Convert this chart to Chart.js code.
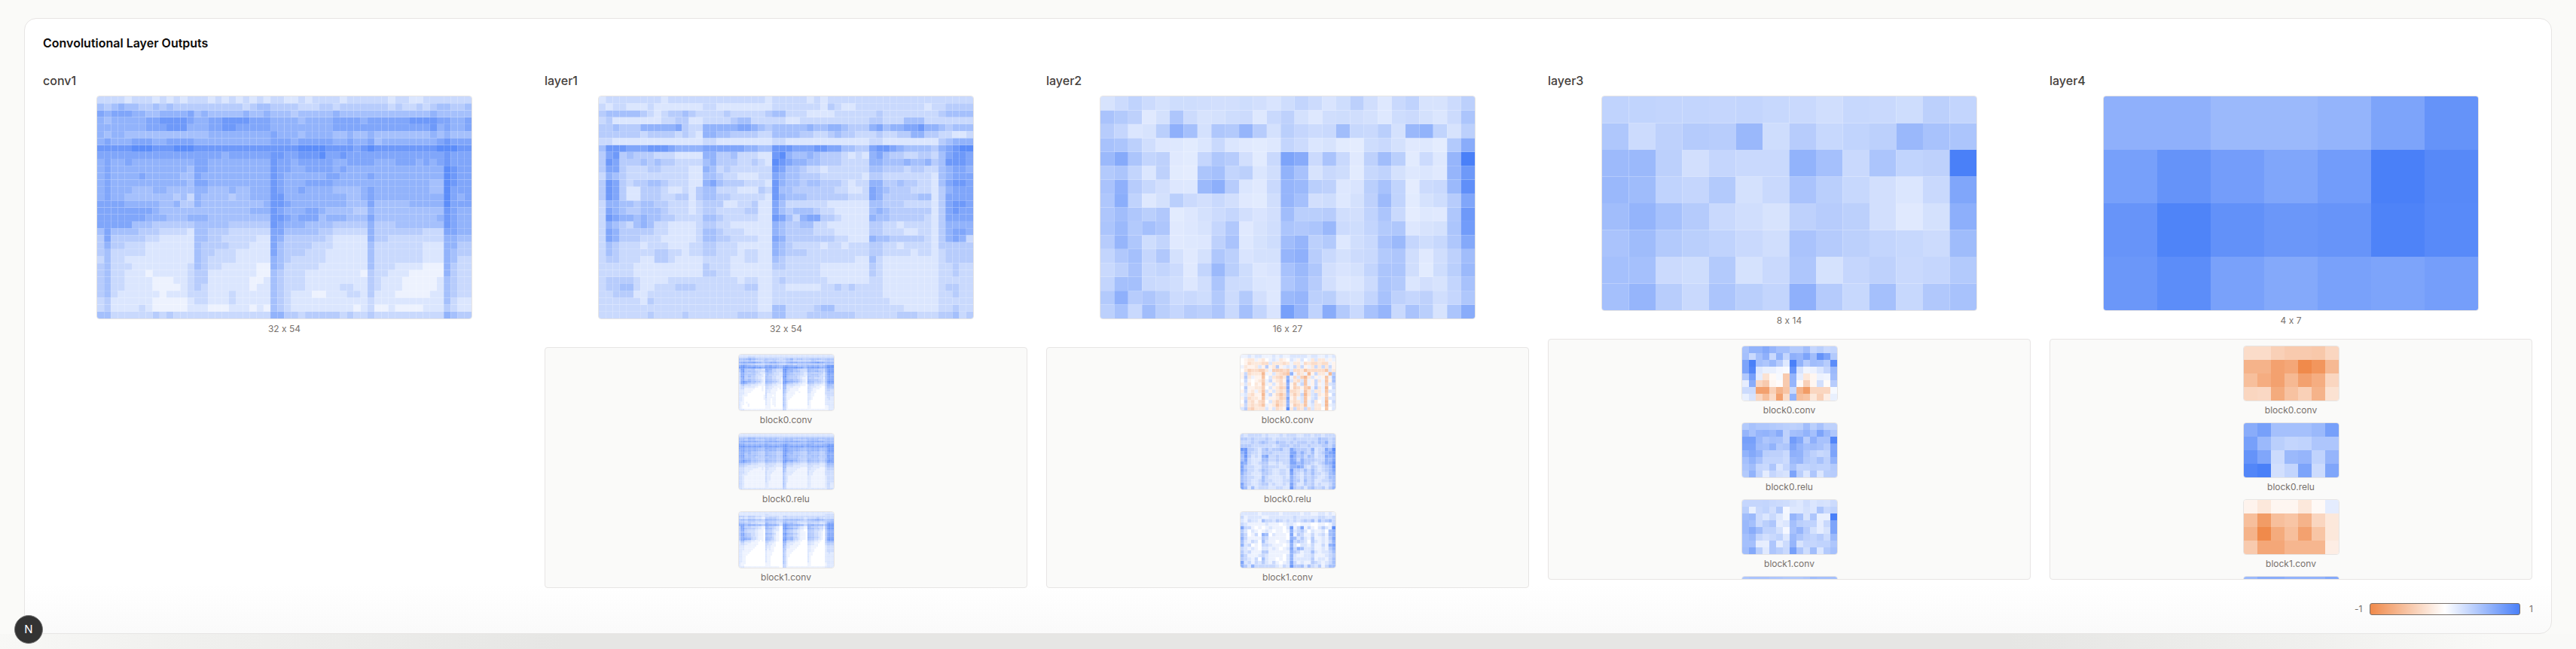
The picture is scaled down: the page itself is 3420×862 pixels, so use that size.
<!DOCTYPE html>
<html>
<head>
<meta charset="utf-8">
<title>Convolutional Layer Outputs</title>
<script src="https://cdn.jsdelivr.net/npm/chart.js@4/dist/chart.umd.min.js"></script>
<style>
  html, body { margin: 0; padding: 0; width: 3420px; height: 862px; overflow: hidden; background: #fafaf8; font-family: Inter, "Noto Sans", sans-serif; font-feature-settings: "calt" 0; color: #44403c; }
  .strip { position: absolute; left: 0; top: 842px; width: 3420px; height: 20px; background: linear-gradient(to right, #f8f8f6 0%, #f1f1ef 6%, #e6e6e4 22%, #e6e6e4 78%, #f0f0ee 90%, #f9f9f7 97%); }
  .card { position: absolute; left: 32px; top: 24px; width: 3356px; height: 818px; box-sizing: border-box; background: linear-gradient(to bottom, #fff 0%, #fff 92%, #fafafa 100%); border: 1px solid #e7e5e4; border-radius: 16px; }
  .title { position: absolute; left: 57px; top: 45px; font-size: 16px; line-height: 24px; font-weight: 600; color: #0c0a09; }
  .col { position: absolute; top: 95px; width: 641px; display: flex; flex-direction: column; }
  .name { font-size: 16px; line-height: 24px; font-weight: 500; color: #44403c; margin-bottom: 8px; }
  .heat { align-self: center; flex: none; box-sizing: border-box; border: 1px solid #e7e5e4; border-radius: 4px; overflow: hidden; background: #fff; }
  .heat canvas { display: block; }
  .cap { align-self: center; flex: none; font-size: 12px; line-height: 16px; color: #78716c; margin-top: 5px; }
  .panel { margin-top: 16px; height: 320px; box-sizing: border-box; background: #fafaf9; border: 1px solid #e7e5e4; border-radius: 4px; padding-top: 8px; overflow: hidden; display: flex; flex-direction: column; align-items: center; flex: none; }
  .panel .cap { margin-top: 4px; margin-bottom: 8.6px; }
  .panel.short .cap { margin-bottom: 8px; }
  .legend { position: absolute; top: 801px; left: 3122px; height: 16px; }
  .legend span { position: absolute; top: 0; font-size: 12px; line-height: 16px; color: #78716c; }
  .legend i { position: absolute; left: 24px; top: 0; width: 200px; height: 16px; box-sizing: border-box; border: 1px solid #78716c; border-radius: 3px; background: linear-gradient(to right, #f08a4b, #fff 50%, #4a80f8); }
  .badge { position: absolute; left: 19px; top: 817px; width: 38px; height: 38px; box-sizing: border-box; border-radius: 50%; background: #333; border: 1px solid #777; color: #fff; font-size: 15px; line-height: 36px; text-align: center; }
</style>
</head>
<body>
<div class="strip"></div>
<div class="card"></div>
<div class="title">Convolutional Layer Outputs</div>

<div class="col" style="left:57px">
  <div class="name">conv1</div>
  <div class="heat"><canvas id="conv1" width="497" height="295"></canvas></div>
  <div class="cap">32 x 54</div>
</div>

<div class="col" style="left:723px">
  <div class="name">layer1</div>
  <div class="heat"><canvas id="layer1" width="497" height="295"></canvas></div>
  <div class="cap">32 x 54</div>
  <div class="panel">
    <div class="heat"><canvas id="l1a" width="126" height="74"></canvas></div><div class="cap">block0.conv</div>
    <div class="heat"><canvas id="l1b" width="126" height="74"></canvas></div><div class="cap">block0.relu</div>
    <div class="heat"><canvas id="l1c" width="126" height="74"></canvas></div><div class="cap">block1.conv</div>
  </div>
</div>

<div class="col" style="left:1389px">
  <div class="name">layer2</div>
  <div class="heat"><canvas id="layer2" width="497" height="295"></canvas></div>
  <div class="cap">16 x 27</div>
  <div class="panel">
    <div class="heat"><canvas id="l2a" width="126" height="74"></canvas></div><div class="cap">block0.conv</div>
    <div class="heat"><canvas id="l2b" width="126" height="74"></canvas></div><div class="cap">block0.relu</div>
    <div class="heat"><canvas id="l2c" width="126" height="74"></canvas></div><div class="cap">block1.conv</div>
  </div>
</div>

<div class="col" style="left:2055px">
  <div class="name">layer3</div>
  <div class="heat"><canvas id="layer3" width="497" height="284"></canvas></div>
  <div class="cap">8 x 14</div>
  <div class="panel short">
    <div class="heat"><canvas id="l3a" width="126" height="72"></canvas></div><div class="cap">block0.conv</div>
    <div class="heat"><canvas id="l3b" width="126" height="72"></canvas></div><div class="cap">block0.relu</div>
    <div class="heat"><canvas id="l3c" width="126" height="72"></canvas></div><div class="cap">block1.conv</div>
    <div class="heat"><canvas id="l3d" width="126" height="72"></canvas></div>
  </div>
</div>

<div class="col" style="left:2721px">
  <div class="name">layer4</div>
  <div class="heat"><canvas id="layer4" width="497" height="284"></canvas></div>
  <div class="cap">4 x 7</div>
  <div class="panel short">
    <div class="heat"><canvas id="l4a" width="126" height="72"></canvas></div><div class="cap">block0.conv</div>
    <div class="heat"><canvas id="l4b" width="126" height="72"></canvas></div><div class="cap">block0.relu</div>
    <div class="heat"><canvas id="l4c" width="126" height="72"></canvas></div><div class="cap">block1.conv</div>
    <div class="heat"><canvas id="l4d" width="126" height="72"></canvas></div>
  </div>
</div>

<div class="legend"><span style="left:4px">-1</span><i></i><span style="left:236px">1</span></div>
<div class="badge">N</div>

<script>
// big grids are rows of characters: digit = +tenths, letter a..j = -0.1..-1.0 (spaces are only for counting)
const conv1Rows = [
"33 332333232323 33 232323232 33 223233332333 3 3323322333 33 33",
"54 565544545444 44 444443455 44 443334434444 4 4434334345 54 45",
"76 777665566667 56 555556556 55 545555565555 5 5555555565 55 55",
"65 666667788887 66 778888777 66 665666677776 7 7777788887 76 67",
"66 666667778886 66 778877777 66 666666677777 7 7777777786 76 67",
"65 665555555555 55 666666666 76 665666655655 6 5555555565 65 55",
"67 666777667777 66 666666666 77 767777766766 7 5666666667 87 77",
"88 888999888999 88 888888888 88 889999888878 9 8888888889 99 88",
"77 777777777777 77 776777777 88 778889778777 7 7777777777 87 77",
"67 667666666666 77 666666666 87 767777766777 7 6667776767 87 77",
"67 666666666665 77 666666666 87 766777767666 6 6666666666 98 77",
"67 666676666655 76 666666666 87 666666776666 7 6666666666 98 77",
"67 666666666665 77 666666666 87 666777766666 6 6666666655 98 77",
"67 666555665555 66 555655666 87 667666655556 7 6666666655 97 77",
"67 665555555453 65 555455666 88 666666666556 7 6666666666 97 67",
"77 776666655644 65 555555556 88 766666666555 7 5555566666 97 77",
"77 777777655555 55 555555666 87 666776555544 6 5555555555 87 66",
"77 777776665556 66 555555555 88 767775666555 7 5555555556 87 66",
"77 777555444444 55 555444444 87 666555544444 6 4445555555 87 66",
"57 555544433332 55 444333333 77 555554433333 6 4444444333 77 66",
"47 444443322222 55 443333322 76 444444322222 6 4433333333 66 55",
"46 443332222222 54 444333222 75 444433322222 5 3333333222 66 44",
"45 333332222222 54 433322222 75 444333222222 5 3333333222 65 44",
"35 332222222222 54 333322222 65 433333222222 5 3333333222 65 33",
"45 333222222223 54 332222211 65 333332222222 5 3332222111 64 33",
"45 332221222223 44 222222211 54 333222222221 4 3322211111 64 33",
"45 332222111223 44 222222112 54 333222222222 4 3222111112 54 33",
"45 332222111123 43 222222122 54 333222223322 4 3222111112 54 33",
"45 322222212223 33 222322222 54 322211222332 4 2221111122 54 33",
"34 222222111112 33 222322222 54 322222222222 3 2222222222 53 22",
"34 222232111112 22 111222121 54 322222222212 3 1121111222 43 22",
"55 333333434333 33 333333333 66 443444443433 4 3333333333 65 44"
];

const layer1Rows = [
"2 33 3333332333 33 33 333333 32 33 3332323333 33 33 3333333 3 33333",
"3 23 3222322222 22 33 222222 22 33 3333324322 33 33 3333332 3 34444",
"4 55 5554323445 43 33 343333 34 55 3332222333 33 34 3333333 3 45555",
"3 42 2222223344 22 33 334553 33 33 2233333333 33 44 3335553 3 33333",
"4 45 4446666674 33 66 666776 54 55 5556556654 44 67 5667786 6 54555",
"4 44 4443444434 32 66 554444 33 55 5544334544 33 34 3344664 4 33223",
"3 32 2222222222 22 33 222222 22 33 2222222222 22 33 2222222 2 45666",
"5 88 8777888766 66 77 777766 55 88 8777887755 44 78 8765555 4 67899",
"4 78 4544433322 22 66 445333 22 89 6556544432 32 67 5443344 3 57887",
"4 87 4445454433 33 56 444334 32 98 7665544433 33 66 5556556 4 58887",
"4 77 4333443333 22 65 343333 33 87 5543323333 33 55 4443443 3 56776",
"3 65 4333333333 22 55 433222 33 76 5544433333 32 44 3333333 2 56777",
"4 87 4344554333 22 67 544433 32 86 5545544432 33 66 4454433 2 57887",
"4 87 4224443223 24 55 333222 43 85 5444444332 23 76 5444333 2 46777",
"4 87 4224443344 24 55 443333 32 86 5554444443 33 76 4444455 2 47777",
"3 66 5545544333 23 44 422334 22 75 3333332222 22 55 4443333 2 47887",
"3 76 5445554333 23 44 333344 22 75 4555433222 22 56 5444444 2 47877",
"3 87 6656554433 33 55 433333 22 87 5367744322 22 65 5444443 2 47777",
"3 65 4356533222 23 44 332222 22 65 4455332222 22 44 3323333 2 46666",
"3 76 4444433222 23 55 433322 22 65 4444333222 22 44 3332233 2 46776",
"3 76 4443332222 23 55 443333 22 76 4444444332 22 65 5444443 2 46763",
"3 54 3332333222 33 44 333222 22 65 4333323323 33 44 3323333 2 44444",
"3 54 3333344332 33 44 333233 22 65 4443333333 33 44 3333233 2 34444",
"3 44 3332244322 22 33 332233 22 54 3333333333 22 53 2222222 2 34444",
"3 33 3322222222 22 43 332222 22 44 3333322222 22 43 2222222 2 33433",
"3 33 3322222222 22 44 332222 22 33 3333322222 22 43 2222222 2 33433",
"3 44 4432222333 33 33 333233 22 34 3333332222 22 33 2222222 2 33333",
"3 44 5532233344 43 33 333344 22 33 2222233434 33 33 2222222 2 34433",
"3 34 4422333333 33 33 333333 22 33 3333333333 33 33 2222222 2 33433",
"3 33 3332433333 33 33 333333 22 33 3333333333 33 33 3222222 2 33333",
"3 33 3333333333 33 33 333333 22 55 3333455333 33 33 3332222 2 33433",
"3 33 3333433334 33 33 333444 33 55 3334444444 33 33 3344433 3 44534"
];

const layer1Block0Conv = [
"2 22 2222222222 22 22 222222 22 22 2222222222 22 22 2222222 2 22222",
"3 33 3344443333 33 33 333333 33 33 3333333333 33 33 3333333 3 33333",
"5 55 5667665544 44 55 445444 33 44 5566445554 44 45 5555554 4 55555",
"4 44 4445443333 34 44 334433 33 33 4444333333 33 33 4443333 3 44444",
"6 77 7777887766 55 66 677766 55 55 6777776666 66 67 7788877 6 66666",
"4 55 5544443333 33 44 444444 33 33 4444334444 44 44 4444444 3 55555",
"6 88 7766666655 55 77 776666 55 77 7766665555 55 66 6666655 5 78899",
"8 99 8888998888 77 88 888877 66 99 9988998887 66 88 8888877 6 89999",
"4 88 5544553333 22 77 664433 33 99 7766554433 33 66 5555444 3 67888",
"4 78 5555554433 33 67 554433 33 88 6666555533 33 66 5566554 3 67888",
"3 77 5544554432 22 56 554333 22 88 6655444433 22 55 4444444 2 57888",
"3 77 5555554333 21 56 444333 22 88 6655544433 22 55 5555443 2 57877",
"3 77 4455443322 21 55 443322 22 88 5544443322 21 55 4444433 2 56777",
"3 67 4444443322 11 55 443322 21 87 5544443321 11 54 4433333 1 56777",
"3 77 5566554433 21 66 554433 21 88 6666555432 21 66 5555443 2 57888",
"3 78 7766555443 21 66 555443 21 88 7766655432 21 66 5544443 2 57888",
"3 77 6644443322 11 55 443322 21 87 5544333221 11 55 4433332 1 46777",
"2 45 3333222211 11 44 332221 10 76 3333322211 10 34 3322211 1 46665",
"2 33 2222221100 10 33 222111 10 65 2222111100 00 33 2221110 0 35555",
"2 33 1111110000 10 33 221110 10 65 2211111000 00 33 2111100 0 34444",
"2 22 1111100000 10 32 211110 00 64 2211111000 00 33 2110000 0 34433",
"2 22 1111000000 00 32 211100 00 64 2111100100 00 33 1110000 0 33333",
"2 22 1100000000 00 31 111100 00 53 1111100000 00 22 1100000 0 33333",
"2 21 1100000000 01 31 110100 00 53 1111000000 00 22 1100000 0 23333",
"2 21 0000000000 01 31 111100 00 53 1110000000 00 22 1000000 0 23322",
"2 21 0000000000 01 21 101100 00 53 1100000000 00 22 1000000 0 22322",
"2 21 0000000000 00 21 101100 00 53 1000000000 00 21 0000000 0 22222",
"2 11 0100000000 00 21 101100 00 53 1000000000 00 21 0000000 0 22222",
"2 11 0010000000 00 21 101100 00 53 1000000000 00 21 0000000 0 22222",
"2 10 0010000000 00 11 100100 00 53 1000000000 00 11 0000000 0 11222",
"2 10 0000000000 00 11 100000 00 43 1000000000 00 11 0000000 0 11222",
"2 22 1111111111 11 11 111111 11 43 1111111111 11 11 1111111 1 11222"
];

const layer1Block0Relu = [
"2 22 2222222222 22 22 222222 22 22 2222222222 22 22 2222222 2 22222",
"3 33 3333333333 33 33 333333 33 33 3333333333 33 33 3333333 3 33333",
"5 55 5566665555 55 55 555555 44 55 5555555555 55 55 5555555 5 55555",
"5 55 4455554444 44 55 555544 44 55 5555444444 44 55 5555444 4 55555",
"6 77 7777777766 66 77 777777 66 77 7777777766 66 77 7777777 6 66666",
"6 66 5555555555 55 66 555555 55 66 6655555555 55 66 6655555 5 66666",
"7 77 6666666666 66 77 666666 66 88 7766666666 66 77 6666666 6 77888",
"8 99 8888888888 77 88 888888 77 99 8888888888 77 88 8888888 7 89999",
"7 77 6666666655 55 77 666655 55 88 7766666655 55 66 6666655 5 67888",
"6 77 6666666655 55 66 666655 55 88 7766666655 55 66 6666655 5 67888",
"6 77 6666555544 44 66 555544 44 88 7766555544 44 66 5555544 4 67888",
"6 77 5566555544 44 66 555544 44 88 6666555544 44 66 5555544 4 67777",
"6 77 5555555544 44 66 555544 44 88 6655555544 44 55 5555544 4 57777",
"6 77 5555554444 44 55 555544 44 87 6655555444 44 55 5555444 4 57777",
"6 77 6666555544 44 66 555544 44 88 7766665544 44 66 5555544 4 67888",
"6 78 7766555544 44 66 555544 44 88 7777665544 44 66 5555544 4 67887",
"6 77 6655444433 33 55 444433 33 87 5555444433 33 55 4444433 3 57777",
"5 55 4444333322 22 44 333322 22 76 4444333322 22 44 3333322 2 46666",
"4 44 3322222222 22 33 333222 22 65 3333222222 22 33 3222222 2 45555",
"3 33 2222222211 21 33 222211 11 65 2222222211 11 33 2222211 1 34444",
"3 33 2222211111 21 33 222211 11 64 2222221111 11 33 2221111 1 34444",
"3 33 2221111111 11 32 222111 11 64 2222211111 11 32 2211111 1 33333",
"3 33 2211111111 11 32 221111 11 53 2222111111 11 32 2111111 1 33333",
"3 32 2211111111 11 32 211111 11 53 2221111111 11 32 2111111 1 33333",
"3 32 1111111111 11 32 211111 11 53 2111111111 11 22 1111111 1 23333",
"3 32 1111111111 11 32 211111 11 53 2111111111 11 22 1111111 1 23333",
"3 32 1111111111 11 32 211111 11 53 2111111111 11 22 1111111 1 23333",
"3 32 1111111111 11 32 111111 11 53 2111111111 11 22 1111111 1 23333",
"3 32 1111111111 11 22 111111 11 53 1111111111 11 22 1111111 1 23322",
"3 32 1111111111 11 22 111111 11 53 1111111111 11 22 1111111 1 23322",
"3 32 1111111111 11 22 111111 11 53 1111111111 11 22 1111111 1 23322",
"3 32 2222222222 22 22 222222 22 43 2222222222 22 22 2222222 2 23333"
];

const layer1Block1Conv = [
"2 22 2222222222 22 22 222222 22 22 2222222222 22 22 2222222 2 22222",
"2 22 2222222222 22 33 222222 22 22 2222222222 22 22 2222222 2 33333",
"4 44 3344443333 22 33 333333 22 44 3333333333 33 33 3333333 3 33333",
"3 23 2233332222 11 44 444433 22 33 3333333333 22 33 3334433 2 33333",
"5 66 5566665555 44 77 666655 44 66 6666666655 44 66 6677766 5 55566",
"4 44 3344443333 33 55 444433 33 55 4444443333 33 44 4444433 3 45566",
"5 55 4444333322 22 66 444433 22 66 5555443322 22 44 3333322 2 46777",
"7 88 6677776666 55 88 777766 33 99 8877777766 44 77 7766666 4 78999",
"4 87 4444333322 11 66 444322 00 88 6655444322 11 66 4444333 1 57888",
"4 77 5544443322 11 66 554322 00 88 7766554322 11 66 5544433 1 57888",
"4 77 4433332211 10 55 443222 00 77 5544332211 00 55 4433322 0 46777",
"4 66 4433332211 10 55 443211 00 77 5544332211 10 55 4433221 0 46777",
"4 77 5544332211 10 66 554311 00 88 6655443211 10 55 4433221 0 46777",
"4 77 5544332211 10 55 443211 00 77 5544332211 10 55 4433221 0 46777",
"4 77 6655433211 10 66 554211 00 88 6666443211 10 66 5544321 0 47888",
"4 77 7766433211 10 66 544211 00 88 6666433211 10 55 4433221 0 47888",
"3 66 4433221110 10 55 433211 00 87 4444322110 00 44 3322110 0 46777",
"2 44 2222111100 00 44 222100 00 76 3322211100 00 33 2211100 0 45555",
"2 33 2211111100 00 33 221100 00 65 2222111100 00 33 2211000 0 34444",
"2 22 1111111000 00 32 211100 00 64 2211111000 00 22 1111000 0 23333",
"2 22 1111110000 00 32 211000 00 64 2211110000 00 22 1110000 0 23333",
"2 22 1111100000 00 31 211000 00 54 1111100000 00 22 1100000 0 23333",
"2 21 1111000000 00 21 111000 00 53 1111000000 00 22 1100000 0 23333",
"2 21 1110000000 00 21 110000 00 53 1110000000 00 21 1000000 0 22322",
"2 21 1100000000 00 21 110000 00 53 1100000000 00 21 1000000 0 22222",
"2 21 1000000000 00 21 100000 00 53 1100000000 00 21 0000000 0 22222",
"2 21 1000000000 00 21 100000 00 53 1000000000 00 21 0000000 0 22222",
"2 21 1000000000 00 21 100000 00 53 1000000000 00 21 0000000 0 22222",
"2 21 1000000000 00 21 100000 00 53 1000000000 00 21 0000000 0 22222",
"2 11 1000000000 00 11 100000 00 53 1000000000 00 11 0000000 0 12222",
"2 11 0000000000 00 11 100000 00 43 1000000000 00 11 0000000 0 12222",
"2 22 1111111111 11 11 111111 00 43 1111111111 11 11 1111111 1 22222"
];

const layer2Block0Conv = [
"11212 21112 12112 22221 22112 12",
"0abb1 ab012 1ba02 1a201 b2bb1 a1",
"0acbb bcc2b bbcb1 bb1cb ccbcc 1a",
"1baab 2a4ab 4a121 3b3a1 b3b3b 3a",
"0bdcc ddb1d ddcd2 ccbec cccce 2b",
"a3cbb bf1a2 bcde6 1cb1f a3bb1 f4",
"a4b1a ae02b cdb61 c2dfb 2a1ae 15",
"03a0a bd13a bca72 bc2e1 a3b1e a5",
"a2b0b ae1a2 acb6a d13e1 a3a1d 23",
"04aab bd02a bdc7a dcade 14b1f 03",
"a3ab1 be2a2 bcb6c cb1eb 2bb1e 22",
"12bca af13a cec5b db3fb 23bad 03",
"a3cbb ae1aa bdc7a c12ea 23a1e 22",
"04bca cd02b dcb6b cb2e1 3b01f 03",
"a3bcb ce1ab ecb6a dcbe1 2bb1f 12",
"24cdb bb2a2 cba9b 3cb3c 2bb0e 02"
];

const layer2Block0Relu = [
"32333 32322 23233 32233 23323 33",
"44343 33432 33333 43333 33544 34",
"33343 45433 54434 34443 43546 34",
"44433 33332 34443 44334 33344 35",
"88443 24534 45337 54443 62337 59",
"68433 24443 33337 74643 52346 78",
"58423 26733 43338 64535 42337 67",
"57322 25533 43337 63644 43336 57",
"76322 34422 32337 75644 32346 68",
"74332 24433 32236 67632 43234 58",
"75332 35432 23328 44353 53234 57",
"64322 24432 23327 43243 53323 56",
"54332 25322 22326 43243 43223 55",
"54322 35332 22336 44253 42233 45",
"74322 34423 22327 42243 42322 35",
"75252 33322 33228 43424 53342 46"
];

const layer2Block1Conv = [
"22222 12222 21222 22122 11221 21",
"31222 21122 22222 32222 22332 23",
"21322 15332 43232 32343 52534 53",
"32111 11211 10122 10111 00110 13",
"73310 10121 11028 13713 10242 19",
"42021 01210 11016 23420 21120 56",
"53013 06502 11107 14311 31231 56",
"63111 14311 11106 52421 41121 47",
"52132 05211 01127 34320 42121 36",
"62301 03321 11016 20221 31131 67",
"32121 02212 10127 36522 31121 46",
"42311 14411 11116 43122 52122 35",
"53111 23211 11026 21122 31112 34",
"43213 05211 01026 22222 41221 35",
"72313 24213 10127 31211 43212 35",
"64263 33333 21328 44525 32413 55"
];

// smaller grids, read cell by cell
const layer2Rows = [
[.22,.28,.35,.28,.24,.27,.27,.26,.25,.25,.27,.25,.21,.27,.33,.28,.21,.27,.37,.26,.18,.30,.35,.22,.22,.28,.37],
[.47,.42,.36,.17,.24,.45,.28,.22,.24,.27,.28,.18,.30,.36,.24,.18,.26,.27,.26,.24,.18,.27,.29,.24,.20,.28,.46],
[.40,.32,.20,.22,.38,.62,.50,.24,.44,.42,.58,.40,.24,.38,.32,.28,.30,.52,.31,.30,.38,.24,.56,.60,.34,.22,.37],
[.48,.46,.37,.26,.19,.18,.16,.20,.30,.20,.17,.16,.18,.33,.28,.20,.22,.16,.15,.27,.30,.24,.17,.18,.15,.42,.65],
[.55,.67,.46,.33,.36,.17,.16,.32,.44,.40,.25,.16,.30,.72,.66,.29,.47,.30,.17,.36,.52,.38,.16,.28,.18,.58,1.0],
[.42,.46,.33,.20,.36,.16,.15,.46,.50,.33,.37,.20,.26,.60,.48,.22,.30,.27,.16,.31,.35,.24,.18,.20,.17,.58,.80],
[.47,.62,.40,.31,.25,.19,.18,.55,.63,.40,.20,.17,.30,.58,.55,.38,.36,.19,.21,.38,.48,.34,.15,.28,.30,.55,.88],
[.44,.64,.35,.18,.24,.38,.29,.25,.30,.25,.17,.16,.26,.58,.50,.25,.27,.18,.24,.36,.54,.34,.16,.23,.27,.40,.70],
[.45,.52,.44,.38,.43,.16,.19,.24,.28,.32,.25,.21,.25,.52,.38,.38,.40,.26,.25,.35,.46,.30,.15,.18,.17,.44,.80],
[.46,.55,.42,.50,.45,.17,.19,.22,.32,.43,.17,.22,.26,.46,.43,.46,.56,.28,.27,.33,.42,.44,.19,.22,.24,.46,.78],
[.40,.58,.44,.27,.33,.17,.18,.19,.36,.47,.18,.23,.27,.52,.58,.37,.42,.18,.26,.30,.47,.55,.32,.27,.31,.44,.68],
[.33,.43,.50,.32,.43,.24,.17,.24,.44,.37,.21,.24,.24,.58,.62,.39,.30,.24,.28,.30,.42,.45,.26,.17,.26,.36,.52],
[.30,.36,.47,.30,.33,.28,.17,.33,.55,.38,.27,.19,.21,.48,.55,.44,.25,.21,.24,.33,.46,.46,.26,.16,.27,.38,.55],
[.33,.50,.50,.30,.28,.26,.19,.26,.46,.28,.27,.20,.19,.45,.52,.40,.25,.18,.20,.28,.46,.42,.20,.25,.22,.33,.48],
[.42,.62,.40,.45,.38,.28,.30,.27,.42,.28,.42,.25,.18,.55,.58,.37,.38,.25,.24,.33,.48,.36,.32,.36,.26,.32,.44],
[.37,.48,.30,.52,.38,.32,.40,.37,.45,.30,.50,.33,.21,.75,.58,.35,.65,.42,.30,.48,.58,.30,.47,.38,.22,.46,.65]
];

const layer3Rows = [
[.35,.34,.33,.33,.32,.33,.31,.30,.26,.31,.30,.27,.37,.33],
[.44,.28,.36,.41,.39,.56,.27,.40,.31,.34,.37,.56,.48,.46],
[.54,.55,.37,.25,.32,.30,.30,.60,.50,.30,.46,.34,.36,1.0],
[.56,.53,.35,.32,.42,.24,.30,.47,.38,.31,.25,.20,.30,.70],
[.52,.59,.49,.41,.30,.26,.22,.36,.40,.37,.25,.17,.24,.63],
[.47,.53,.42,.38,.35,.30,.26,.47,.41,.37,.33,.31,.28,.53],
[.50,.50,.29,.27,.42,.23,.30,.45,.23,.32,.36,.30,.32,.42],
[.50,.58,.39,.30,.46,.38,.33,.62,.41,.31,.50,.31,.43,.48]
];

const layer3Block0Conv = [
[.48,.60,.60,.68,.58,.50,.50,.42,.42,.52,.32,.38,.30,.33],
[.50,.30,.50,.62,.30,.60,.33,.62,.58,.72,.52,.85,.72,.42],
[.72,1.0,.50,.45,.55,.40,.18,1.0,.60,.40,.52,.50,.40,.90],
[.72,.95,.18,.12,.12,.06,.04,.85,.22,.08,.10,.20,.32,.55],
[.43,.75,.15,-.25,-.05,.05,-.45,.60,.14,-.2,-.08,.1,.08,.52],
[.14,.65,-.35,-.45,-.08,-.03,-.45,.58,-.05,-.4,-.08,.25,-.04,.40],
[.28,.28,-.8,-.8,-.4,-.65,-.5,.3,-.65,-.85,-.35,-.35,-.35,.05],
[.12,.22,-.35,-.55,-.3,-.8,-.3,.6,-.55,-.5,-.2,-.4,-.15,.12]
];

const layer3Block0Relu = [
[.42,.48,.44,.44,.42,.40,.38,.36,.38,.52,.38,.48,.36,.36],
[.58,.48,.58,.60,.55,.65,.36,.50,.52,.60,.50,.72,.55,.45],
[.75,.75,.55,.45,.50,.48,.36,.78,.68,.40,.62,.48,.48,.95],
[.72,.72,.52,.50,.60,.42,.45,.70,.58,.50,.52,.48,.40,.70],
[.60,.68,.60,.38,.36,.36,.30,.62,.60,.45,.36,.30,.33,.72],
[.50,.60,.48,.33,.33,.33,.28,.55,.58,.42,.38,.48,.36,.60],
[.46,.52,.32,.30,.45,.20,.32,.48,.33,.34,.37,.35,.35,.42],
[.42,.60,.35,.15,.32,.25,.22,.72,.38,.20,.45,.20,.38,.40]
];

const layer3Block1Conv = [
[.32,.32,.32,.33,.30,.28,.27,.22,.18,.26,.20,.24,.22,.28],
[.38,.12,.30,.34,.25,.42,.06,.18,.18,.24,.20,.46,.30,.35],
[.52,.55,.28,.20,.30,.18,.08,.58,.48,.22,.45,.12,.12,1.0],
[.55,.50,.28,.38,.45,.15,.20,.50,.38,.35,.35,.14,.30,.72],
[.55,.65,.52,.35,.35,.24,.06,.48,.58,.40,.24,.14,.22,.72],
[.50,.55,.32,.25,.30,.35,.18,.55,.45,.36,.33,.40,.28,.55],
[.50,.50,.14,.13,.45,.15,.28,.58,.22,.32,.32,.35,.35,.45],
[.52,.68,.38,.17,.45,.38,.30,.75,.45,.27,.52,.20,.42,.50]
];

// only the top row of the fourth thumbnail shows before the panel cuts it off
const layer3Block1Relu = [
[.45,.47,.47,.47,.45,.44,.42,.42,.42,.45,.52,.50,.50,.50]
];

const layer4Rows = [
[.62,.62,.55,.55,.59,.72,.85],
[.75,.85,.77,.70,.78,1.0,.93],
[.84,.97,.87,.82,.84,.98,.92],
[.82,.90,.74,.68,.74,.72,.76]
];

const layer4Block0Conv = [
[-.3,-.3,-.4,-.45,-.45,-.47,-.35],
[-.65,-.65,-.8,-.75,-1.0,-.9,-.6],
[-.55,-.7,-.8,-.6,-.8,-.7,-.35],
[-.35,-.33,-.72,-.52,-.4,-.65,-.25]
];

const layer4Block0Relu = [
[.65,.75,.5,.5,.5,.55,.75],
[.75,.55,.38,.33,.35,.45,.45],
[.85,.7,.28,.55,.58,.35,.58],
[.95,1.0,.25,.33,.72,.28,.7]
];

const layer4Block1Conv = [
[-.1,-.2,-.08,-.08,-.2,-.05,.15],
[-.55,-.85,-.55,-.5,-.65,-.35,-.2],
[-.65,-1.0,-.72,-.55,-.8,-.5,-.2],
[-.45,-.75,-.75,-.62,-.62,-.62,-.15]
];

const layer4Block1Relu = [
[.55,.65,.65,.6,.6,.6,.68]
];

const NEGATIVE = [240, 138, 75];
const ZERO = [255, 255, 255];
const POSITIVE = [74, 128, 248];

function parseRow(text) {
    return [...text.replace(/ /g, '')].map(c => c >= 'a' ? -(c.charCodeAt(0) - 96) / 10 : Number(c) / 10);
}

function cellColor(v) {
    const end = v < 0 ? NEGATIVE : POSITIVE;
    const t = Math.min(Math.abs(v), 1);
    const rgb = ZERO.map((z, i) => Math.round(z + (end[i] - z) * t));
    return `rgb(${rgb[0]},${rgb[1]},${rgb[2]})`;
}

// one stacked bar per column, one dataset per row, each segment one row tall
function heatmap(id, rows, totalRows) {
    const grid = typeof rows[0] === 'string' ? rows.map(parseRow) : rows;
    const labels = grid[0].map((_, i) => i);
    new Chart(document.getElementById(id), {
        type: 'bar',
        data: {
            labels: labels,
            datasets: grid.map(row => ({
                data: row.map(() => 1),
                backgroundColor: row.map(cellColor),
                borderWidth: 0,
                inflateAmount: 0,  // keep the faint seams between cells
                barPercentage: 1,
                categoryPercentage: 1
            }))
        },
        options: {
            responsive: false,
            animation: false,
            devicePixelRatio: 1,
            events: [],
            layout: { padding: 0 },
            plugins: { legend: { display: false }, tooltip: { enabled: false } },
            scales: {
                x: { display: false, stacked: true },
                y: { display: false, stacked: true, reverse: true, min: 0, max: totalRows || grid.length }
            }
        }
    });
}

heatmap('conv1', conv1Rows);
heatmap('layer1', layer1Rows);
heatmap('layer2', layer2Rows);
heatmap('layer3', layer3Rows);
heatmap('layer4', layer4Rows);

heatmap('l1a', layer1Block0Conv);
heatmap('l1b', layer1Block0Relu);
heatmap('l1c', layer1Block1Conv);
heatmap('l2a', layer2Block0Conv);
heatmap('l2b', layer2Block0Relu);
heatmap('l2c', layer2Block1Conv);
heatmap('l3a', layer3Block0Conv);
heatmap('l3b', layer3Block0Relu);
heatmap('l3c', layer3Block1Conv);
heatmap('l3d', layer3Block1Relu, 8);
heatmap('l4a', layer4Block0Conv);
heatmap('l4b', layer4Block0Relu);
heatmap('l4c', layer4Block1Conv);
heatmap('l4d', layer4Block1Relu, 4);
</script>
</body>
</html>
